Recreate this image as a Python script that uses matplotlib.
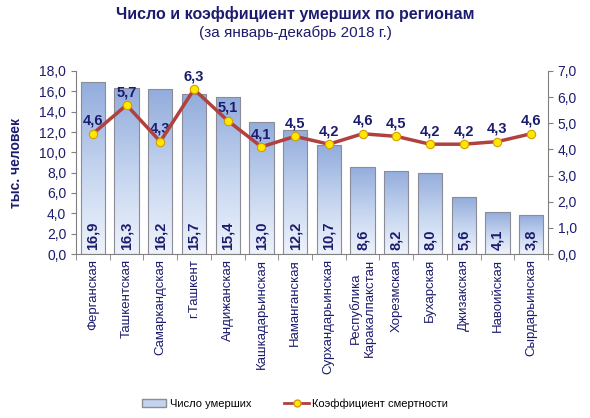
import numpy as np
import matplotlib.pyplot as plt
from matplotlib.colors import LinearSegmentedColormap
from matplotlib.lines import Line2D
from matplotlib.patches import Patch

# DATA:
# ==================================================================
regions = ['Ферганская', 'Ташкентская', 'Самаркандская', 'г.Ташкент',
           'Андижанская', 'Кашкадарьинская', 'Наманганская',
           'Сурхандарьинская', 'Республика\nКаракалпакстан', 'Хорезмская',
           'Бухарская', 'Джизакская', 'Навоийская', 'Сырдарьинская']
deaths = [16.9, 16.3, 16.2, 15.7, 15.4, 13.0, 12.2, 10.7, 8.6, 8.2, 8.0, 5.6, 4.1, 3.8]
rate = [4.6, 5.7, 4.3, 6.3, 5.1, 4.1, 4.5, 4.2, 4.6, 4.5, 4.2, 4.2, 4.3, 4.6]

navy = '#1c1c6e'
plt.rcParams['font.family'] = ['Liberation Sans', 'DejaVu Sans']

# MAKE PLOT:
# ==================================================================
fig = plt.figure(figsize=(5.9, 4.18), dpi=100)
ax = fig.add_axes([76/590, 1-254/418, 472/590, 183/418])
ax2 = ax.twinx()

x = np.arange(len(regions))
bars = ax.bar(x, deaths, width=0.72, color='none', edgecolor='#8c8c96', linewidth=0.8, zorder=2)

cmap = LinearSegmentedColormap.from_list('bl', ['#eef3fb', '#c4d4ef', '#93acdc'])
grad = np.linspace(0, 1, 256).reshape(-1, 1)
for b in bars:
    im = ax.imshow(grad, cmap=cmap, origin='lower', aspect='auto', zorder=1,
                   extent=[b.get_x(), b.get_x()+b.get_width(), 0, b.get_height()])
    im.set_clip_path(b)

for xi, v in zip(x, deaths):
    ax.text(xi, 0.35, ('%.1f' % v).replace('.', ','), rotation=90, ha='center', va='bottom',
            fontsize=10.5, fontweight='bold', color=navy, zorder=4)

ax.set_xlim(-0.5, len(regions)-0.5)
ax.set_ylim(0, 18)
ax.set_yticks(np.arange(0, 18.1, 2))
ax.set_yticklabels([('%.1f' % t).replace('.', ',') for t in np.arange(0, 18.1, 2)])
ax.set_xticks(x)
ax.set_xticklabels(regions, rotation=90, fontsize=9.5, color=navy)
ax.set_ylabel('тыс. человек', fontsize=10, fontweight='bold', color=navy, labelpad=12)

ax2.plot(x, rate, color='#b0413e', linewidth=2.5, marker='o', markersize=6,
         markerfacecolor='#ffe800', markeredgecolor='#d89a00', markeredgewidth=0.8, zorder=5)
for xi, v in zip(x, rate):
    ax2.text(xi, v+0.22, ('%.1f' % v).replace('.', ','), ha='center', va='bottom',
             fontsize=10.5, fontweight='bold', color=navy)
ax2.set_ylim(0, 7)
ax2.set_yticks(np.arange(0, 7.1, 1))
ax2.set_yticklabels([('%.1f' % t).replace('.', ',') for t in np.arange(0, 7.1, 1)])

for a in (ax, ax2):
    a.tick_params(axis='y', labelsize=10, labelcolor=navy, color='#808080')
    for s in a.spines.values():
        s.set_visible(False)
ax.spines['left'].set_visible(True)
ax.spines['bottom'].set_visible(True)
ax2.spines['right'].set_visible(True)
for s in ('left', 'bottom'):
    ax.spines[s].set_color('#808080')
ax2.spines['right'].set_color('#808080')
ax.set_xticks(np.arange(-0.5, len(regions)), minor=True)
ax.tick_params(axis='x', which='major', length=0)
ax.tick_params(axis='x', which='minor', length=4, color='#808080')

fig.text(0.5, 1-14/418, 'Число и коэффициент умерших по регионам', ha='center', va='center',
         fontsize=11.5, fontweight='bold', color=navy)
fig.text(0.5, 1-33/418, '(за январь-декабрь 2018 г.)', ha='center', va='center',
         fontsize=11, color=navy)

handles = [Patch(facecolor='#c4d4ef', edgecolor='#8c8c96'),
           Line2D([0], [0], color='#b0413e', linewidth=2, marker='o', markersize=5,
                  markerfacecolor='#ffe800', markeredgecolor='#d89a00')]
fig.legend(handles, ['Число умерших', 'Коэффициент смертности'], loc='center',
           bbox_to_anchor=(0.5, 1-404/418), ncol=2, frameon=False, fontsize=8,
           handlelength=2.2, handletextpad=0.3, columnspacing=3)

fig.savefig('out.png', dpi=100)
